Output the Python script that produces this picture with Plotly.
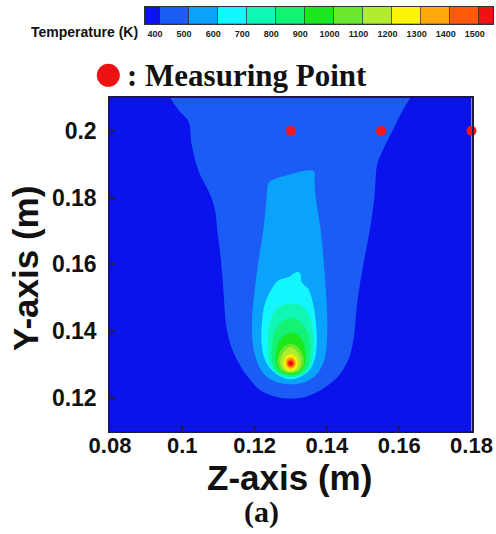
import plotly.graph_objects as go

# Temperature isotherm levels (K) and the fill colour of every band:
# below 400, 400-500, 500-600, ..., 1400-1500, above 1500
LEVELS = [400, 500, 600, 700, 800, 900, 1000, 1100, 1200, 1300, 1400, 1500]
BAND_COLORS = ["#0a12ee", "#1a5cf4", "#0aa2fb", "#14f6ff", "#10f6b4", "#14f274",
               "#1ce81c", "#6ce82c", "#b2ec2e", "#fcf406", "#ffa808", "#ff5a06",
               "#f01212"]
COLORBAR_RANGE = [350, 1550]

# Isotherm outlines (Z, Y in m); the region enclosed by each outline is hotter
# than its level.  The 400 K isotherm leaves the domain through the top edge.
ISO_400_Z = [0.0955, 0.0966, 0.0990, 0.1017, 0.1026, 0.1045, 0.1077, 0.1091, 0.1096,
             0.1107, 0.1114, 0.1121, 0.1133, 0.1150, 0.1178, 0.1216, 0.1260, 0.1300,
             0.1340, 0.1377, 0.1410, 0.1437, 0.1460, 0.1474, 0.1482, 0.1488, 0.1503,
             0.1520, 0.1532, 0.1539, 0.1553, 0.1566, 0.1585, 0.1608, 0.1631, 0.1642]
ISO_400_Y = [0.2125, 0.2100, 0.2062, 0.2028, 0.1958, 0.1879, 0.1809, 0.1759, 0.1710,
             0.1612, 0.1516, 0.1420, 0.1360, 0.1316, 0.1267, 0.1222, 0.1202, 0.1197,
             0.1202, 0.1219, 0.1243, 0.1272, 0.1316, 0.1376, 0.1466, 0.1516, 0.1612,
             0.1710, 0.1809, 0.1899, 0.1938, 0.1968, 0.2008, 0.2058, 0.2100, 0.2125]

ISO_500_Z = [0.1243, 0.1280, 0.1363, 0.1366, 0.1368, 0.1382, 0.1391, 0.1397, 0.1401,
             0.1400, 0.1392, 0.1370, 0.1340, 0.1300, 0.1260, 0.1228, 0.1206, 0.1194,
             0.1193, 0.1200, 0.1211, 0.1225, 0.1234, 0.1236, 0.1243]
ISO_500_Y = [0.1849, 0.1864, 0.1879, 0.1845, 0.1809, 0.1710, 0.1612, 0.1520, 0.1440,
             0.1370, 0.1310, 0.1268, 0.1247, 0.1240, 0.1247, 0.1268, 0.1310, 0.1370,
             0.1440, 0.1520, 0.1612, 0.1710, 0.1809, 0.1835, 0.1849]

ISO_600_Z = [0.1266, 0.1294, 0.1317, 0.1326, 0.1331, 0.1349, 0.1362, 0.1370, 0.1372,
             0.1366, 0.1348, 0.1300, 0.1252, 0.1228, 0.1219, 0.1220, 0.1228, 0.1244,
             0.1266]
ISO_600_Y = [0.1552, 0.1562, 0.1577, 0.1573, 0.1545, 0.1525, 0.1480, 0.1420, 0.1366,
             0.1315, 0.1278, 0.1255, 0.1278, 0.1315, 0.1366, 0.1420, 0.1480, 0.1520,
             0.1552]

ISO_700_Z = [0.1300, 0.1335, 0.1355, 0.1362, 0.1363, 0.1356, 0.1345, 0.1326, 0.1305,
             0.1275, 0.1256, 0.1243, 0.1237, 0.1236, 0.1245, 0.1265, 0.1300]
ISO_700_Y = [0.1261, 0.1270, 0.1295, 0.1340, 0.1385, 0.1430, 0.1460, 0.1478, 0.1482,
             0.1476, 0.1460, 0.1430, 0.1385, 0.1340, 0.1295, 0.1270, 0.1261]

ISO_800_Z = [0.1300, 0.1325, 0.1343, 0.1352, 0.1353, 0.1345, 0.1325, 0.1302, 0.1277,
             0.1256, 0.1249, 0.1248, 0.1256, 0.1275, 0.1300]
ISO_800_Y = [0.1265, 0.1270, 0.1287, 0.1320, 0.1360, 0.1400, 0.1428, 0.1440, 0.1428,
             0.1400, 0.1360, 0.1320, 0.1287, 0.1270, 0.1265]

ISO_900_Z = [0.1300, 0.1326, 0.1338, 0.1341, 0.1335, 0.1322, 0.1302, 0.1282, 0.1266,
             0.1259, 0.1262, 0.1274, 0.1300]
ISO_900_Y = [0.1269, 0.1278, 0.1295, 0.1330, 0.1365, 0.1385, 0.1395, 0.1385, 0.1365,
             0.1330, 0.1295, 0.1278, 0.1269]

ISO_1000_Z = [0.1300, 0.1326, 0.1336, 0.1334, 0.1324, 0.1308, 0.1300, 0.1292, 0.1276,
              0.1266, 0.1264, 0.1274, 0.1300]
ISO_1000_Y = [0.1273, 0.1282, 0.1303, 0.1325, 0.1347, 0.1359, 0.1361, 0.1359, 0.1347,
              0.1325, 0.1303, 0.1282, 0.1273]

ISO_1100_Z = [0.1300, 0.1320, 0.1328, 0.1326, 0.1316, 0.1300, 0.1284, 0.1274, 0.1272,
              0.1280, 0.1300]
ISO_1100_Y = [0.1276, 0.1284, 0.1303, 0.1322, 0.1341, 0.1351, 0.1341, 0.1322, 0.1303,
              0.1284, 0.1276]

ISO_1200_Z = [0.1300, 0.1314, 0.1319, 0.1315, 0.1300, 0.1285, 0.1281, 0.1286, 0.1300]
ISO_1200_Y = [0.1281, 0.1287, 0.1303, 0.1320, 0.1330, 0.1320, 0.1303, 0.1287, 0.1281]

ISO_1300_Z = [0.1300, 0.1310, 0.1314, 0.1311, 0.1300, 0.1289, 0.1286, 0.1290, 0.1300]
ISO_1300_Y = [0.1287, 0.1292, 0.1303, 0.1315, 0.1321, 0.1315, 0.1303, 0.1292, 0.1287]

ISO_1400_Z = [0.1300, 0.1307, 0.1310, 0.1307, 0.1300, 0.1293, 0.1290, 0.1293, 0.1300]
ISO_1400_Y = [0.1292, 0.1295, 0.1303, 0.1311, 0.1315, 0.1311, 0.1303, 0.1295, 0.1292]

ISO_1500_Z = [0.1300, 0.1305, 0.1307, 0.1305, 0.1300, 0.1295, 0.1293, 0.1295, 0.1300]
ISO_1500_Y = [0.1296, 0.1298, 0.1303, 0.1308, 0.1311, 0.1308, 0.1303, 0.1298, 0.1296]

ISO_Z = [ISO_400_Z, ISO_500_Z, ISO_600_Z, ISO_700_Z, ISO_800_Z, ISO_900_Z,
         ISO_1000_Z, ISO_1100_Z, ISO_1200_Z, ISO_1300_Z, ISO_1400_Z, ISO_1500_Z]
ISO_Y = [ISO_400_Y, ISO_500_Y, ISO_600_Y, ISO_700_Y, ISO_800_Y, ISO_900_Y,
         ISO_1000_Y, ISO_1100_Y, ISO_1200_Y, ISO_1300_Y, ISO_1400_Y, ISO_1500_Y]

# Thermocouple measuring points
MEAS_Z = [0.13, 0.155, 0.18]
MEAS_Y = [0.20, 0.20, 0.20]

W, H = 496, 534
M_L, M_R, M_T, M_B = 110, 2, 5, 103
PW, PH = W - M_L - M_R, H - M_T - M_B


def px_x(p):
    return (p - M_L) / PW


def px_y(p):
    return (H - M_B - p) / PH


AX_FONT = "Liberation Sans, Arial, sans-serif"
SERIF = "Liberation Serif, Times New Roman, serif"

fig = go.Figure()

# filled isotherm bands, coolest first so hotter regions sit on top
for i, (zs, ys) in enumerate(zip(ISO_Z, ISO_Y)):
    fig.add_trace(go.Scatter(
        x=zs, y=ys, mode="lines", fill="toself",
        fillcolor=BAND_COLORS[i + 1],
        line=dict(width=0, shape="spline", smoothing=1.0,
                  color=BAND_COLORS[i + 1]),
        name=f"T > {LEVELS[i]} K", hoverinfo="skip", showlegend=False))

fig.add_trace(go.Scatter(
    x=MEAS_Z, y=MEAS_Y, mode="markers", cliponaxis=False,
    marker=dict(size=10, color="#ff1414", line=dict(width=0)),
    name="Measuring Point", showlegend=False))

# temperature legend bar
n_band = len(BAND_COLORS)
edges = [COLORBAR_RANGE[0]] + LEVELS + [COLORBAR_RANGE[1]]
scale = []
for k, c in enumerate(BAND_COLORS):
    scale.append([k / n_band, c])
    scale.append([(k + 1) / n_band, c])
fig.add_trace(go.Heatmap(
    x=edges, y=[0, 1], z=[list(range(n_band))],
    zmin=-0.5, zmax=n_band - 0.5, colorscale=scale, showscale=False,
    hoverinfo="skip", xaxis="x2", yaxis="y2"))

axis_common = dict(showgrid=False, zeroline=False, showline=True, mirror=True,
                   linecolor="#1c1c3c", linewidth=1.5, ticks="inside", ticklen=5,
                   tickwidth=1.5, tickcolor="#1c1c3c", automargin=False)

fig.update_layout(
    width=W, height=H,
    margin=dict(l=M_L, r=M_R, t=M_T, b=M_B, autoexpand=False),
    paper_bgcolor="white", plot_bgcolor=BAND_COLORS[0],
    showlegend=False,
    xaxis=dict(domain=[0, px_x(471.5)], range=[0.08, 0.18], tick0=0.08, dtick=0.02,
               tickfont=dict(family=AX_FONT, size=22, color="#111", weight="bold"),
               ticklabelstandoff=-6,
               **axis_common),
    yaxis=dict(domain=[0, px_y(97.5)], range=[0.11, 0.21], tick0=0.12, dtick=0.02,
               tickfont=dict(family=AX_FONT, size=23, color="#111", weight="bold"),
               ticklabelstandoff=7,
               **axis_common),
    xaxis2=dict(domain=[px_x(144.5), px_x(493.3)], anchor="y2",
                range=COLORBAR_RANGE, tickvals=LEVELS, ticks="inside",
                ticklen=17, tickwidth=1, tickcolor="rgba(30,30,30,0.65)",
                showline=True, mirror=True, linecolor="#333", linewidth=1,
                showgrid=False, zeroline=False, ticklabelshift=-4,
                ticklabelstandoff=1, automargin=False,
                tickfont=dict(family=AX_FONT, size=9, color="#222",
                              weight="bold")),
    yaxis2=dict(domain=[px_y(24), px_y(6.7)], anchor="x2", range=[0, 1],
                showticklabels=False, ticks="", showline=True, mirror=True,
                linecolor="#333", linewidth=1, showgrid=False, zeroline=False,
                automargin=False),
    annotations=[
        dict(text="Z-axis (m)", xref="paper", yref="paper",
             x=px_x(289), y=px_y(477), xanchor="center", yanchor="middle",
             showarrow=False,
             font=dict(family=AX_FONT, size=35, color="#111", weight="bold")),
        dict(text="Y-axis (m)", xref="paper", yref="paper", textangle=-90,
             x=px_x(25), y=px_y(269), xanchor="center", yanchor="middle",
             showarrow=False,
             font=dict(family=AX_FONT, size=35, color="#111", weight="bold")),
        dict(text="Temperature (K)", xref="paper", yref="paper",
             x=px_x(140), y=px_y(32), xanchor="right", yanchor="middle",
             showarrow=False,
             font=dict(family=AX_FONT, size=14, color="#111", weight="bold")),
        dict(text=": Measuring Point", xref="paper", yref="paper",
             x=px_x(125), y=px_y(75.5), xanchor="left", yanchor="middle",
             showarrow=False,
             font=dict(family=SERIF, size=31, color="#111", weight="bold")),
        dict(text="(a)", xref="paper", yref="paper",
             x=px_x(261.7), y=px_y(512), xanchor="center", yanchor="middle",
             showarrow=False,
             font=dict(family=SERIF, size=30, color="#111", weight="bold")),
    ],
    shapes=[
        dict(type="circle", xref="paper", yref="paper", xsizemode="pixel",
             ysizemode="pixel", xanchor=px_x(108.3), yanchor=px_y(75.3),
             x0=-11.5, x1=11.5, y0=-11.5, y1=11.5,
             fillcolor="#ee1111", line=dict(width=0)),
    ],
)

fig.write_html("out.html")
